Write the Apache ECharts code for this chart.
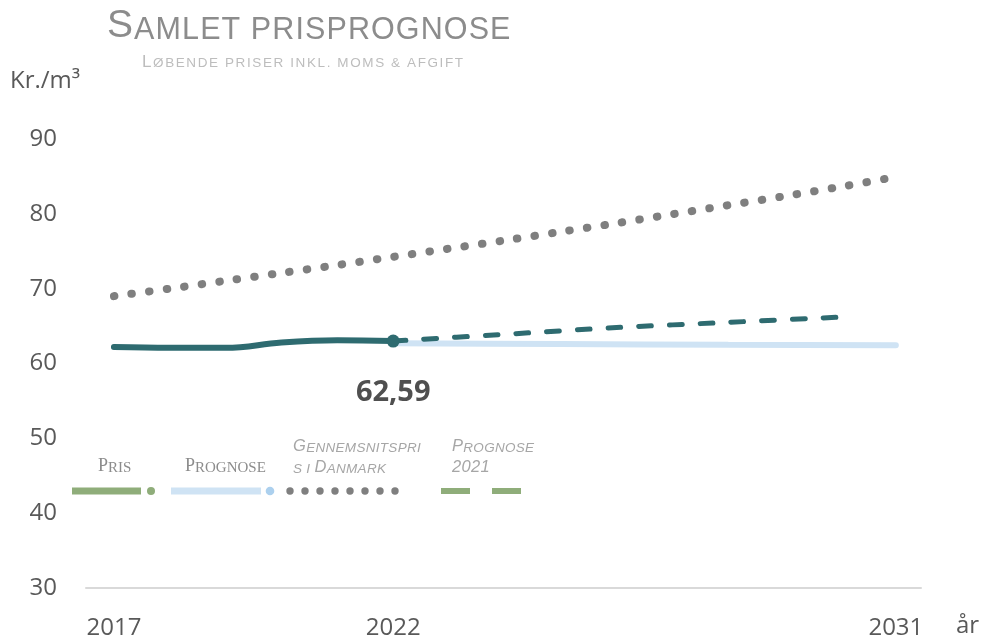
<!DOCTYPE html>
<html>
<head>
<meta charset="utf-8">
<script src="https://cdn.jsdelivr.net/npm/echarts@6/dist/echarts.min.js"></script>
<style>
html,body{margin:0;padding:0;background:#fff;}
#chart{width:982px;height:637px;}
</style>
</head>
<body>
<div id="chart"></div>
<script>
// ---- data ----
const xTickYears = [2017, 2022, 2031];
const prisYears = [2017, 2018, 2019, 2020, 2021, 2022];
const prisValues = [62.2, 62.1, 62.1, 62.8, 63.1, 63.0];
const prognoseYears = [2022, 2025, 2028, 2031];
const prognoseValues = [62.7, 62.6, 62.5, 62.45];
const prognose2021Years = [2022, 2024, 2026, 2028, 2030];
const prognose2021Values = [63.0, 63.9, 64.8, 65.5, 66.2];
const avgYears = [2017, 2018, 2019, 2020, 2021, 2022, 2023, 2024, 2025, 2026, 2027, 2028, 2029, 2030, 2030.83];
const avgValues = [69.0, 70.0, 71.05, 72.1, 73.15, 74.25, 75.35, 76.45, 77.6, 78.75, 79.95, 81.15, 82.35, 83.6, 84.7];
const markerLabel = '62,59';
const titleText = 'Samlet prisprognose';
const subtitleText = 'Løbende priser inkl. moms & afgift';
const unitText = 'Kr./m³';
const xAxisName = 'år';
const legendNames = ['Pris', 'Prognose', ['Gennemsnitspri', 's i Danmark'], ['Prognose', '2021']];

// ---- helpers ----
function pairs(xs, ys) { return xs.map((x, i) => [x, ys[i]]); }
function smallCaps(str, big, small, spacing, family, italic, color) {
  const base = { fontFamily: family, fontStyle: italic ? 'italic' : 'normal', fill: color, verticalAlign: 'bottom', padding: [0, spacing, 0, 0] };
  const rich = {
    B: Object.assign({}, base, { fontSize: big, lineHeight: big }),
    s: Object.assign({}, base, { fontSize: small, lineHeight: big - 0.6 * (big - small) })
  };
  let text = '';
  for (const ch of str) {
    const isBig = /[A-ZÆØÅ0-9]/.test(ch);
    text += '{' + (isBig ? 'B' : 's') + '|' + (isBig ? ch : ch.toUpperCase()) + '}';
  }
  return { text, rich };
}
function scText(x, top, str, big, small, spacing, family, italic, color) {
  const sc = smallCaps(str, big, small, spacing, family, italic, color);
  return { type: 'text', x: x, y: top, silent: true,
    style: { text: sc.text, rich: sc.rich, align: 'left', verticalAlign: 'top', fill: color } };
}

const teal = '#2e6b70';
const lightBlue = '#cfe3f4';
const gray = '#7f7f7f';
const green = '#8fad7a';
const sans = 'Liberation Sans, Arial, sans-serif';
const serif = 'Liberation Serif, Times New Roman, serif';
const numFont = 'Open Sans, sans-serif';

const chart = echarts.init(document.getElementById('chart'), null, { renderer: 'canvas' });

const graphic = [
  scText(107, 7, titleText, 39, 30.5, 1.1, sans, false, '#8c8c8c'),
  scText(142, 53.5, subtitleText, 17, 13.5, 1.6, sans, false, '#bdbdbd'),
  { type: 'text', x: 10, y: 69, silent: true,
    style: { text: unitText, fontFamily: numFont, fontSize: 24, fill: '#595959', align: 'left', verticalAlign: 'top' } },
  { type: 'text', x: 956, y: 614, silent: true,
    style: { text: xAxisName, fontFamily: numFont, fontSize: 24, fill: '#595959', align: 'left', verticalAlign: 'top' } },
  // legend texts
  scText(98, 457.5, legendNames[0], 18, 15, 0, serif, false, '#8c8c8c'),
  scText(185, 457.5, legendNames[1], 18, 15, 0, serif, false, '#8c8c8c'),
  scText(293, 438.5, legendNames[2][0], 16.5, 13.5, 0.3, sans, true, '#a6a6a6'),
  scText(293, 459.5, legendNames[2][1], 16.5, 13.5, 0.3, sans, true, '#a6a6a6'),
  scText(452, 438.5, legendNames[3][0], 16.5, 13.5, 0.3, sans, true, '#a6a6a6'),
  scText(452, 459.5, legendNames[3][1], 16.5, 13.5, 0.3, sans, true, '#a6a6a6'),
  // legend symbols
  { type: 'line', silent: true, shape: { x1: 72, y1: 491, x2: 141, y2: 491 }, style: { stroke: green, lineWidth: 7 } },
  { type: 'circle', silent: true, shape: { cx: 151, cy: 491, r: 4 }, style: { fill: green } },
  { type: 'line', silent: true, shape: { x1: 171, y1: 491, x2: 261, y2: 491 }, style: { stroke: lightBlue, lineWidth: 7 } },
  { type: 'circle', silent: true, shape: { cx: 270, cy: 491, r: 4.3 }, style: { fill: '#acd0ee' } },
  { type: 'line', silent: true, shape: { x1: 441, y1: 491, x2: 470, y2: 491 }, style: { stroke: green, lineWidth: 6 } },
  { type: 'line', silent: true, shape: { x1: 492, y1: 491, x2: 521, y2: 491 }, style: { stroke: green, lineWidth: 6 } }
];
for (let i = 0; i < 8; i++) {
  graphic.push({ type: 'circle', silent: true, shape: { cx: 290 + i * 15, cy: 491, r: 3.7 }, style: { fill: gray } });
}

const option = {
  animation: false,
  backgroundColor: '#ffffff',
  grid: { left: 86, right: 61, top: 139, bottom: 49, containLabel: false, outerBoundsMode: 'none' },
  xAxis: {
    type: 'value', min: 2016.5, max: 2031.45,
    axisLine: { show: true, lineStyle: { color: '#d9d9d9', width: 2 } },
    axisTick: { show: false },
    splitLine: { show: false },
    axisLabel: {
      customValues: xTickYears,
      formatter: v => String(v),
      fontFamily: numFont, fontSize: 24, color: '#595959', margin: 28
    }
  },
  yAxis: {
    type: 'value', min: 30, max: 90, interval: 10,
    axisLine: { show: false }, axisTick: { show: false }, splitLine: { show: false },
    axisLabel: { fontFamily: numFont, fontSize: 24, color: '#595959', margin: 29 }
  },
  graphic: graphic,
  series: [
    {
      name: 'Gennemsnitspris i Danmark', type: 'line', data: pairs(avgYears, avgValues),
      symbol: 'none', smooth: 0.3, z: 2,
      lineStyle: { color: gray, width: 8, type: [0.5, 17.2], cap: 'round' }
    },
    {
      name: 'Prognose', type: 'line', data: pairs(prognoseYears, prognoseValues),
      symbol: 'none', smooth: 0.3, z: 3,
      lineStyle: { color: lightBlue, width: 6, cap: 'round' }
    },
    {
      name: 'Prognose 2021', type: 'line', data: pairs(prognose2021Years, prognose2021Values),
      symbol: 'none', smooth: 0.3, z: 4,
      lineStyle: { color: teal, width: 5, type: [12.7, 18.05], cap: 'round' }
    },
    {
      name: 'Pris', type: 'line', data: pairs(prisYears, prisValues),
      symbol: 'none', smooth: 0.4, z: 5,
      lineStyle: { color: teal, width: 6, cap: 'round' }
    },
    {
      name: 'Pris punkt', type: 'scatter',
      data: [[prisYears[prisYears.length - 1], prisValues[prisValues.length - 1]]],
      symbol: 'circle', symbolSize: 13, z: 6,
      itemStyle: { color: teal, opacity: 1 },
      emphasis: { disabled: true },
      label: {
        show: true, position: 'bottom', distance: 31,
        formatter: () => markerLabel,
        fontFamily: numFont, fontWeight: 'bold', fontSize: 29, color: '#4f4f4f'
      }
    }
  ]
};
chart.setOption(option);
</script>
</body>
</html>
